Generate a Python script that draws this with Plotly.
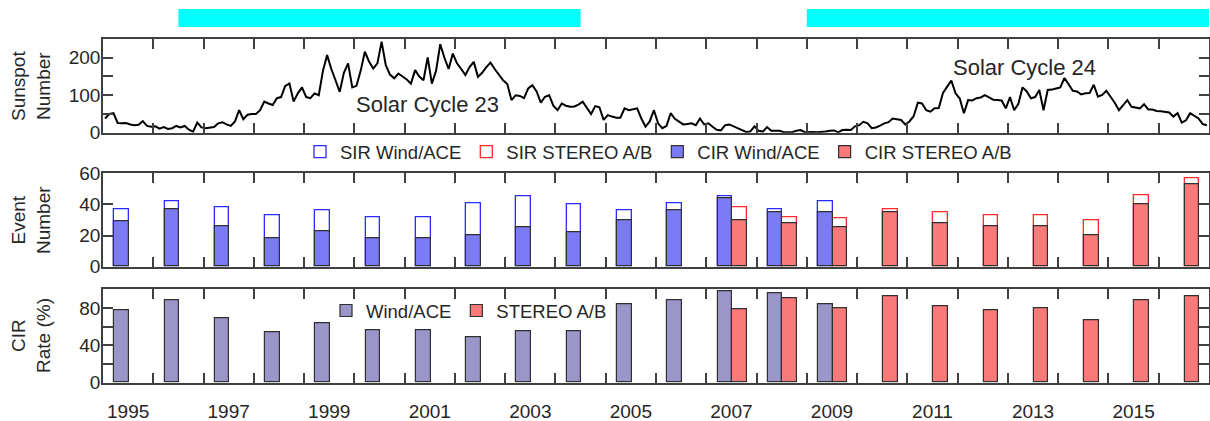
import plotly.graph_objects as go

# ---------------- data ----------------
sunspot_start_year = 1995
sunspot_monthly = [
    38, 50, 52, 26, 25, 26, 22, 20, 21, 31, 18, 16,        # 1995
    17, 11, 15, 10, 12, 18, 14, 18, 8, 3, 27, 14,          # 1996
    12, 13, 15, 25, 28, 22, 18, 30, 60, 36, 48, 50,        # 1997
    50, 60, 83, 78, 74, 92, 95, 125, 131, 83, 105, 121,    # 1998
    95, 92, 105, 100, 165, 207, 170, 140, 109, 160, 185, 121,  # 1999
    125, 165, 216, 190, 171, 185, 243, 180, 155, 145, 158, 150,  # 2000
    142, 131, 167, 150, 140, 201, 131, 165, 236, 200, 170, 211,  # 2001
    185, 170, 154, 175, 189, 149, 160, 175, 187, 170, 154, 140,  # 2002
    130, 87, 100, 98, 92, 118, 127, 110, 80, 96, 100, 72,  # 2003
    60, 78, 72, 69, 70, 75, 83, 65, 50, 71, 68, 34,        # 2004
    47, 43, 40, 40, 65, 60, 62, 65, 38, 16, 30, 60,        # 2005
    25, 12, 18, 52, 37, 29, 22, 23, 25, 20, 38, 22,        # 2006
    25, 16, 8, 6, 20, 22, 17, 10, 5, 2, 3, 17,             # 2007
    5, 3, 15, 5, 5, 5, 1.2, 0.5, 1.5, 5, 7, 1.5,           # 2008
    2, 2, 1, 1, 3, 5, 6, 1, 7, 8, 7, 17,                   # 2009
    20, 29, 25, 12, 14, 19, 25, 28, 38, 36, 34, 22,        # 2010
    30, 44, 80, 78, 60, 56, 65, 66, 106, 123, 139, 105,    # 2011
    91, 52, 87, 86, 92, 94, 100, 94, 88, 87, 86, 65,       # 2012
    95, 60, 77, 121, 110, 92, 95, 114, 60, 114, 115, 118,  # 2013
    121, 146, 128, 112, 110, 102, 105, 106, 128, 96, 101, 112,  # 2014
    96, 80, 60, 75, 87, 69, 66, 65, 76, 62, 62, 58,        # 2015
    57, 56, 54, 43, 52, 27, 33, 52, 44, 38, 23, 20,        # 2016
]

years_wind = list(range(1995, 2010))
sir_wind = [37, 42, 38, 33, 36, 32, 32, 41, 45, 40, 36, 41, 45, 37, 42]
cir_wind = [29, 37, 26, 18, 23, 18, 18, 20, 25, 22, 30, 36, 44, 35, 35]
rate_wind = [78, 88.5, 69, 54.5, 64, 56, 56, 49, 55.5, 55, 84, 88.5, 98, 95.5, 84]

years_stereo = list(range(2007, 2017))
sir_stereo = [38, 32, 31, 37, 35, 33, 33, 30, 46, 57]
cir_stereo = [30, 28, 25, 35, 28, 26, 26, 20, 40, 53]
rate_stereo = [78.5, 90, 79.5, 93, 82, 78, 80, 67, 88, 92]

cycle_bars = [(1996.5, 2004.5), (2009.0, 2017.0)]
tick_years = list(range(1995, 2018))
label_years = list(range(1995, 2017, 2))

# ---------------- layout helpers ----------------
W, H = 1210, 421
def fx(p):
    return p / W
def fy(p):
    return 1 - p / H

AX = '#404040'
TXT = '#262626'
FONT = 'Liberation Sans, Arial, sans-serif'

BLUE_FILL = '#7b7bf6'
BLUE_LINE = '#2b2bff'
RED_FILL = '#fa7a7a'
RED_LINE = '#ff2a2a'
PURPLE_FILL = '#9b96c9'
BAR_EDGE = '#303030'

BW = 0.29
OFF_W = 0.225
OFF_S = 0.515

t_sunspot = [sunspot_start_year + (i + 0.5) / 12 for i in range(len(sunspot_monthly))]

fig = go.Figure()

# Panel 1: sunspot number
fig.add_trace(go.Scatter(x=t_sunspot, y=sunspot_monthly, mode='lines',
                         line=dict(color='black', width=2), showlegend=False,
                         xaxis='x', yaxis='y'))

# Panel 2: event numbers
fig.add_trace(go.Bar(x=years_wind, y=sir_wind, name='SIR Wind/ACE', width=BW, offset=OFF_W,
                     marker=dict(color='white', line=dict(color=BLUE_LINE, width=1.3)),
                     xaxis='x2', yaxis='y2', legend='legend'))
fig.add_trace(go.Bar(x=years_stereo, y=sir_stereo, name='SIR STEREO A/B', width=BW, offset=OFF_S,
                     marker=dict(color='white', line=dict(color=RED_LINE, width=1.3)),
                     xaxis='x2', yaxis='y2', legend='legend'))
fig.add_trace(go.Bar(x=years_wind, y=cir_wind, name='CIR Wind/ACE', width=BW, offset=OFF_W,
                     marker=dict(color=BLUE_FILL, line=dict(color=BAR_EDGE, width=1.2)),
                     xaxis='x2', yaxis='y2', legend='legend'))
fig.add_trace(go.Bar(x=years_stereo, y=cir_stereo, name='CIR STEREO A/B', width=BW, offset=OFF_S,
                     marker=dict(color=RED_FILL, line=dict(color=BAR_EDGE, width=1.2)),
                     xaxis='x2', yaxis='y2', legend='legend'))

# Panel 3: CIR rate
fig.add_trace(go.Bar(x=years_wind, y=rate_wind, name='Wind/ACE', width=BW, offset=OFF_W,
                     marker=dict(color=PURPLE_FILL, line=dict(color=BAR_EDGE, width=1.2)),
                     xaxis='x3', yaxis='y3', legend='legend2'))
fig.add_trace(go.Bar(x=years_stereo, y=rate_stereo, name='STEREO A/B', width=BW, offset=OFF_S,
                     marker=dict(color=RED_FILL, line=dict(color=BAR_EDGE, width=1.2)),
                     xaxis='x3', yaxis='y3', legend='legend2'))

xdom = [fx(103), fx(1209)]

def xaxis(anchor, labels):
    d = dict(domain=xdom, anchor=anchor, range=[1995, 2017], automargin=False,
             showline=True, linecolor=AX, linewidth=1.5, mirror='allticks',
             ticks='inside', ticklen=0, tickcolor='rgba(0,0,0,0)',
             tickmode='array',
             tickvals=[y + 0.5 for y in label_years],
             ticktext=[str(y) for y in label_years],
             showticklabels=labels, ticklabelstandoff=11,
             tickfont=dict(size=19, color=TXT, family=FONT),
             minor=dict(ticks='inside', ticklen=10, tickwidth=1.5, tickcolor=AX,
                        tickmode='array', tickvals=tick_years, showgrid=False),
             showgrid=False, zeroline=False, fixedrange=True)
    return d

def yaxis(anchor, top, bottom, rng, vals, texts):
    return dict(domain=[fy(bottom), fy(top)], anchor=anchor, range=rng, automargin=False,
                showline=True, linecolor=AX, linewidth=1.5, mirror='allticks',
                ticks='inside', ticklen=10, tickwidth=1.5, tickcolor=AX,
                tickmode='array', tickvals=vals, ticktext=texts,
                ticklabelstandoff=-3,
                tickfont=dict(size=19, color=TXT, family=FONT),
                showgrid=False, zeroline=False, fixedrange=True)

shapes = []
for a, b in cycle_bars:
    shapes.append(dict(type='rect', xref='x', yref='paper', x0=a, x1=b,
                       y0=fy(27), y1=fy(9), fillcolor='#00ffff', line=dict(width=0),
                       layer='above'))

def title_ann(text, ypix):
    return dict(text=text, xref='paper', yref='paper', x=fx(31), y=fy(ypix),
                xanchor='center', yanchor='middle', textangle=-90, showarrow=False,
                font=dict(size=19, color=TXT, family=FONT))

annotations = [
    title_ann('Sunspot<br>Number', 86),
    title_ann('Event<br>Number', 220),
    title_ann('CIR<br>Rate (%)', 336),
    dict(text='Solar Cycle 23', xref='x', yref='y', x=2001.46, y=74,
         xanchor='center', yanchor='middle',
         showarrow=False, font=dict(size=22, color=TXT, family=FONT)),
    dict(text='Solar Cycle 24', xref='x', yref='y', x=2013.33, y=173,
         xanchor='center', yanchor='middle',
         showarrow=False, font=dict(size=22, color=TXT, family=FONT)),
]

fig.update_layout(
    width=W, height=H, autosize=False,
    margin=dict(l=0, r=0, t=0, b=0, pad=0),
    paper_bgcolor='white', plot_bgcolor='white',
    barmode='overlay', bargap=0,
    font=dict(family=FONT, color=TXT),
    xaxis=xaxis('y', False),
    xaxis2=xaxis('y2', False),
    xaxis3=xaxis('y3', True),
    yaxis=yaxis('x', 39, 132.7, [0, 250], [0, 50, 100, 150, 200, 250],
                ['0', '', '100', '', '200', '']),
    yaxis2=yaxis('x2', 173.3, 266.7, [0, 60], [0, 20, 40, 60], ['0', '20', '40', '60']),
    yaxis3=yaxis('x3', 289.3, 382.7, [0, 100], [0, 20, 40, 60, 80, 100],
                 ['0', '', '40', '', '80', '']),
    legend=dict(orientation='h', x=fx(300), y=fy(152), xanchor='left', yanchor='middle',
                bgcolor='rgba(0,0,0,0)', font=dict(size=18.5, color=TXT, family=FONT),
                itemwidth=30, traceorder='normal'),
    legend2=dict(orientation='h', x=fx(326), y=fy(311), xanchor='left', yanchor='middle',
                 bgcolor='rgba(0,0,0,0)', font=dict(size=18.5, color=TXT, family=FONT),
                 itemwidth=30, traceorder='normal'),
    shapes=shapes,
    annotations=annotations,
)

fig.write_html('out.html', config={'displayModeBar': False},
               post_script="document.body.style.margin='0px';")
